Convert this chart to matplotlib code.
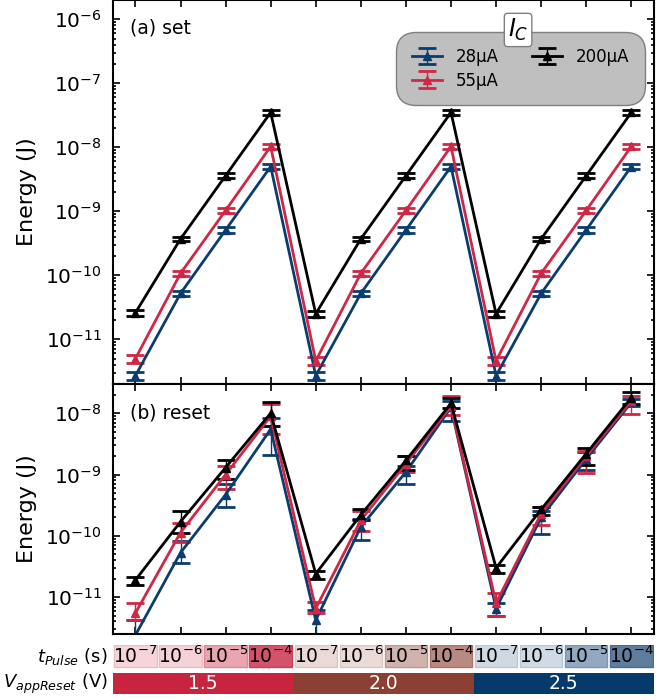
import numpy as np
import matplotlib
matplotlib.use('Agg')
import matplotlib.pyplot as plt
from matplotlib.patches import Rectangle

# x categories: pulse widths for each reset voltage
t_pulse = ['$10^{-7}$', '$10^{-6}$', '$10^{-5}$', '$10^{-4}$'] * 3
v_reset = ['1.5', '2.0', '2.5']
currents = ['28µA', '55µA', '200µA']

# (a) set energy and symmetric error
set_28 = [2.7e-12, 5.2e-11, 5.1e-10, 5.0e-9, 2.7e-12, 5.2e-11, 5.1e-10, 5.0e-9, 2.7e-12, 5.2e-11, 5.1e-10, 5.0e-9]
set_55 = [5.0e-12, 1.07e-10, 1.03e-9, 1.03e-8, 4.6e-12, 1.07e-10, 1.03e-9, 1.03e-8, 4.6e-12, 1.07e-10, 1.03e-9, 1.03e-8]
set_200 = [2.6e-11, 3.7e-10, 3.6e-9, 3.5e-8, 2.5e-11, 3.7e-10, 3.6e-9, 3.5e-8, 2.5e-11, 3.7e-10, 3.6e-9, 3.5e-8]
set_err_28 = [0.4e-12, 0.5e-11, 0.5e-10, 0.5e-9, 0.4e-12, 0.5e-11, 0.5e-10, 0.5e-9, 0.4e-12, 0.5e-11, 0.5e-10, 0.5e-9]
set_err_55 = [0.7e-12, 0.9e-11, 0.8e-10, 0.8e-9, 0.7e-12, 0.9e-11, 0.8e-10, 0.8e-9, 0.7e-12, 0.9e-11, 0.8e-10, 0.8e-9]
set_err_200 = [0.25e-11, 0.3e-10, 0.3e-9, 0.3e-8, 0.25e-11, 0.3e-10, 0.3e-9, 0.3e-8, 0.25e-11, 0.3e-10, 0.3e-9, 0.3e-8]

# (b) reset energy with lower / upper bounds
reset_28 = [2.4e-12, 5.3e-11, 4.7e-10, 5.5e-9, 4.2e-12, 1.4e-10, 1.1e-9, 1.25e-8, 6.5e-12, 2.0e-10, 1.8e-9, 1.5e-8]
reset_28_lo = [1.5e-12, 3.6e-11, 2.9e-10, 2.05e-9, 2.3e-12, 8.5e-11, 7.0e-10, 7.4e-9, 5.0e-12, 1.08e-10, 1.2e-9, 1.3e-8]
reset_28_hi = [4.2e-12, 8.1e-11, 7.1e-10, 8.3e-9, 6.1e-12, 1.9e-10, 1.4e-9, 1.6e-8, 8.0e-12, 2.5e-10, 2.3e-9, 1.7e-8]
reset_55 = [5.5e-12, 1.13e-10, 1.0e-9, 9.0e-9, 6.5e-12, 1.8e-10, 1.5e-9, 1.3e-8, 8.0e-12, 2.3e-10, 2.0e-9, 1.6e-8]
reset_55_lo = [4.2e-12, 8.0e-11, 5.7e-10, 4.6e-9, 5.4e-12, 1.2e-10, 1.1e-9, 9.3e-9, 4.9e-12, 1.5e-10, 1.04e-9, 9.6e-9]
reset_55_hi = [8.0e-12, 1.63e-10, 1.4e-9, 1.4e-8, 8.3e-12, 2.5e-10, 2.0e-9, 1.9e-8, 1.16e-11, 2.9e-10, 2.4e-9, 1.9e-8]
reset_200 = [1.9e-11, 1.7e-10, 1.3e-9, 1.0e-8, 2.4e-11, 2.2e-10, 1.7e-9, 1.45e-8, 3.0e-11, 2.7e-10, 2.2e-9, 1.8e-8]
reset_200_lo = [1.6e-11, 1.12e-10, 8.6e-10, 6.2e-9, 2.0e-11, 1.8e-10, 1.2e-9, 1.2e-8, 2.5e-11, 2.2e-10, 1.45e-9, 1.4e-8]
reset_200_hi = [2.1e-11, 2.5e-10, 1.7e-9, 1.5e-8, 2.7e-11, 2.7e-10, 2.0e-9, 1.8e-8, 3.3e-11, 3.0e-10, 2.7e-9, 2.2e-8]

line_colors = ['#0b3c6e', '#cf2746', 'black']
group_colors = ['#c8233f', '#8b4033', '#063a6b']
cell_colors = ['#f6d4da', '#f4d2d8', '#e9a6b1', '#d4536b',
               '#eadad7', '#eadbd8', '#d0b3ad', '#b98a82',
               '#cfd9e3', '#d0dae4', '#93a9c1', '#5f7e9e']
cell_edges = ['#ecbcc5', '#ecbcc5', '#dd8897', '#c8405a',
              '#dcc4bf', '#dcc4bf', '#bd9890', '#a87268',
              '#b9c8d6', '#b9c8d6', '#7c96b2', '#4b6c8f']

x = np.arange(12)

fig = plt.figure(figsize=(6.72, 7.0), dpi=100)
ax1 = fig.add_axes([0.168, 0.4514, 0.805, 0.5486])
ax2 = fig.add_axes([0.168, 0.0943, 0.805, 0.3571])
ax3 = fig.add_axes([0.168, 0.0071, 0.805, 0.0714])

style = dict(marker='^', markersize=6, linewidth=2, elinewidth=1,
             capsize=6.5, capthick=2)

set_vals = [set_28, set_55, set_200]
set_errs = [set_err_28, set_err_55, set_err_200]
for vals, errs, c, lab in zip(set_vals, set_errs, line_colors, currents):
    ax1.errorbar(x, vals, yerr=errs, color=c, label=lab, **style)

reset_vals = [reset_28, reset_55, reset_200]
reset_lo = [reset_28_lo, reset_55_lo, reset_200_lo]
reset_hi = [reset_28_hi, reset_55_hi, reset_200_hi]
for vals, lo, hi, c in zip(reset_vals, reset_lo, reset_hi, line_colors):
    vals = np.array(vals)
    yerr = [vals - np.array(lo), np.array(hi) - vals]
    ax2.errorbar(x, vals, yerr=yerr, color=c, **style)

for ax in (ax1, ax2):
    ax.set_yscale('log')
    ax.set_xlim(-0.5, 11.5)
    ax.set_xticks(x)
    ax.set_xticklabels([])
    ax.tick_params(which='both', direction='in', top=True, right=True,
                   labelsize=14.5, width=1.2, pad=8)
    ax.tick_params(which='major', length=5)
    ax.tick_params(which='minor', length=2.5)
    for s in ax.spines.values():
        s.set_linewidth(1.5)
    ax.set_ylabel('Energy (J)', fontsize=16)
    ax.yaxis.set_label_coords(-0.14, 0.5)

ax1.set_ylim(2e-12, 2e-6)
ax2.set_ylim(2.5e-12, 3e-8)
ax1.set_yticks([1e-11, 1e-10, 1e-9, 1e-8, 1e-7, 1e-6])
ax2.set_yticks([1e-11, 1e-10, 1e-9, 1e-8])

ax1.text(0.031, 0.927, '(a) set', transform=ax1.transAxes, fontsize=13.5, va='center')
ax2.text(0.031, 0.884, '(b) reset', transform=ax2.transAxes, fontsize=13.5, va='center')

leg = ax1.legend(ncol=2, loc='upper right', bbox_to_anchor=(0.983, 0.917),
                 borderaxespad=0, fontsize=12, frameon=True, fancybox=True,
                 framealpha=1, facecolor='#bfbfbf', edgecolor='#7f7f7f',
                 borderpad=0.95, columnspacing=2.0, handletextpad=0.8,
                 labelspacing=0.35, handlelength=1.8)
leg.get_frame().set_boxstyle('round,pad=0,rounding_size=1.2')
leg.get_frame().set_linewidth(1.0)
ax1.text(0.749, 0.922, '$I_C$', transform=ax1.transAxes, fontsize=17,
         ha='center', va='center', zorder=10,
         bbox=dict(boxstyle='round,pad=0.15', facecolor='white', edgecolor='#7f7f7f'))

# parameter table below the plot
ax3.set_xlim(-0.5, 11.5)
ax3.set_ylim(0, 1)
ax3.axis('off')
gap = 0.03
for i in x:
    ax3.add_patch(Rectangle((i - 0.5 + gap, 0.56), 1 - 2 * gap, 0.44,
                            facecolor=cell_colors[i], edgecolor=cell_edges[i], linewidth=1))
    ax3.text(i, 0.78, t_pulse[i], ha='center', va='center', fontsize=13.5)
for g, (v, c) in enumerate(zip(v_reset, group_colors)):
    ax3.add_patch(Rectangle((4 * g - 0.5, 0.02), 4, 0.42, facecolor=c, edgecolor='none'))
    ax3.text(4 * g + 1.5, 0.23, v, ha='center', va='center', fontsize=13.5, color='white')
ax3.text(-0.01, 0.78, '$t_{Pulse}$ (s)', transform=ax3.transAxes, ha='right',
         va='center', fontsize=13)
ax3.text(-0.01, 0.23, '$V_{appReset}$ (V)', transform=ax3.transAxes, ha='right',
         va='center', fontsize=13)

fig.savefig('out.png', dpi=100)
